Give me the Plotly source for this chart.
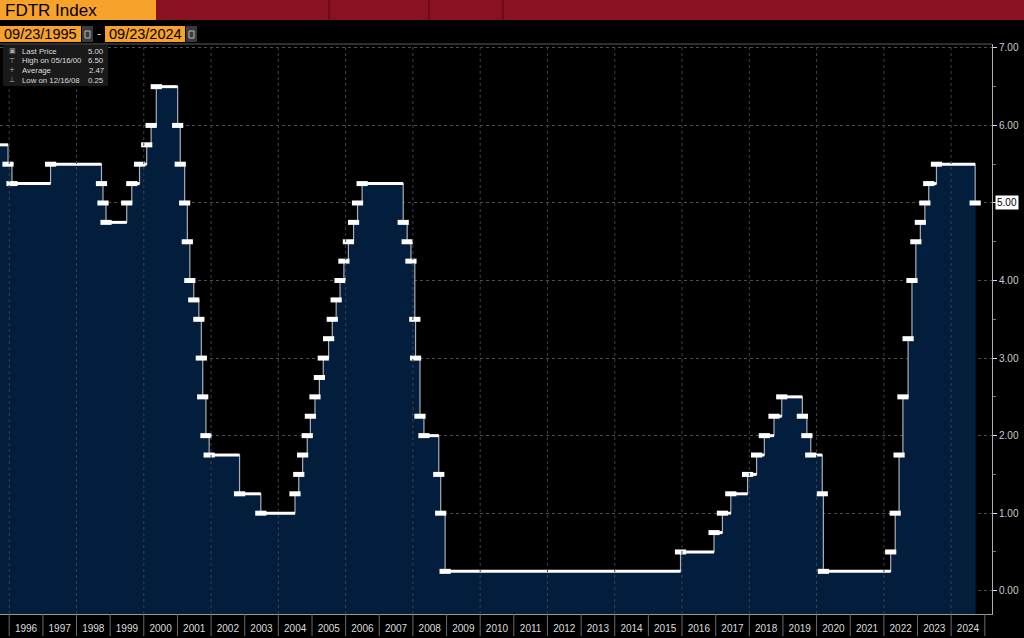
import plotly.graph_objects as go

# ---------------- data ----------------
change_dates = [
    "1995-09-23", "1995-12-19", "1996-01-31", "1997-03-25", "1998-09-29", "1998-10-15",
    "1998-11-17", "1999-06-30", "1999-08-24", "1999-11-16", "2000-02-02", "2000-03-21",
    "2000-05-16", "2001-01-03", "2001-01-31", "2001-03-20", "2001-04-18", "2001-05-15",
    "2001-06-27", "2001-08-21", "2001-09-17", "2001-10-02", "2001-11-06", "2001-12-11",
    "2002-11-06", "2003-06-25", "2004-06-30", "2004-08-10", "2004-09-21", "2004-11-10",
    "2004-12-14", "2005-02-02", "2005-03-22", "2005-05-03", "2005-06-30", "2005-08-09",
    "2005-09-20", "2005-11-01", "2005-12-13", "2006-01-31", "2006-03-28", "2006-05-10",
    "2006-06-29", "2007-09-18", "2007-10-31", "2007-12-11", "2008-01-22", "2008-01-30",
    "2008-03-18", "2008-04-30", "2008-10-08", "2008-10-29", "2008-12-16", "2015-12-16",
    "2016-12-14", "2017-03-15", "2017-06-14", "2017-12-13", "2018-03-21", "2018-06-13",
    "2018-09-26", "2018-12-19", "2019-07-31", "2019-09-18", "2019-10-30", "2020-03-03",
    "2020-03-15", "2022-03-16", "2022-05-04", "2022-06-15", "2022-07-27", "2022-09-21",
    "2022-11-02", "2022-12-14", "2023-02-01", "2023-03-22", "2023-05-03", "2023-07-26",
    "2024-09-18",
]
rates = [
    5.75, 5.50, 5.25, 5.50, 5.25, 5.00,
    4.75, 5.00, 5.25, 5.50, 5.75, 6.00,
    6.50, 6.00, 5.50, 5.00, 4.50, 4.00,
    3.75, 3.50, 3.00, 2.50, 2.00, 1.75,
    1.25, 1.00, 1.25, 1.50, 1.75, 2.00,
    2.25, 2.50, 2.75, 3.00, 3.25, 3.50,
    3.75, 4.00, 4.25, 4.50, 4.75, 5.00,
    5.25, 4.75, 4.50, 4.25, 3.50, 3.00,
    2.25, 2.00, 1.50, 1.00, 0.25, 0.50,
    0.75, 1.00, 1.25, 1.50, 1.75, 2.00,
    2.25, 2.50, 2.25, 2.00, 1.75, 1.25,
    0.25, 0.50, 1.00, 1.75, 2.50, 3.25,
    4.00, 4.50, 4.75, 5.00, 5.25, 5.50,
    5.00,
]
end_date = "2024-09-23"
axis_end = "2025-03-20"
years = list(range(1996, 2025))
y_ticks = [0, 1, 2, 3, 4, 5, 6, 7]
legend_labels = ["Last Price", "High on 05/16/00", "Average", "Low on 12/16/08"]
legend_values = ["5.00", "6.50", "2.47", "0.25"]
legend_icons = ["\u25a3", "\u22a4", "+", "\u22a5"]
title_text = "FDTR Index"
date_from = "09/23/1995"
date_to = "09/23/2024"

# ---------------- geometry helpers ----------------
W, H = 1024, 638
ML, MR, MT, MB = 0, 32, 44, 24
PW, PH = W - ML - MR, H - MT - MB
Y_MIN, Y_MAX = -0.30, 7.05
FONT = "Liberation Sans, Arial"


def px(x):
    return (x - ML) / PW


def py(y):
    return (H - MB - y) / PH


step_x = change_dates + [end_date]
step_y = rates + [rates[-1]]

fig = go.Figure()

# baseline for fill (plot bottom)
fig.add_trace(go.Scatter(x=[change_dates[0], end_date], y=[Y_MIN, Y_MIN], mode="lines",
                         line=dict(width=0), hoverinfo="skip", showlegend=False))
# filled area
fig.add_trace(go.Scatter(x=step_x, y=step_y, mode="lines", line_shape="hv",
                         line=dict(width=0), fill="tonexty", fillcolor="#031E3C",
                         hoverinfo="skip", showlegend=False))
# thin vertical connectors
fig.add_trace(go.Scatter(x=step_x, y=step_y, mode="lines", line_shape="hv",
                         line=dict(width=1.2, color="#A7AFB8"),
                         hoverinfo="skip", showlegend=False))
# white horizontal segments
hx, hy = [], []
for i in range(len(rates)):
    hx += [step_x[i], step_x[i + 1], None]
    hy += [step_y[i], step_y[i], None]
fig.add_trace(go.Scatter(x=hx, y=hy, mode="lines", line=dict(width=3, color="#FFFFFF"),
                         hoverinfo="skip", showlegend=False))
# change markers
fig.add_trace(go.Scatter(x=change_dates[1:], y=rates[1:], mode="markers",
                         marker=dict(symbol="line-ew", size=8,
                                     line=dict(width=5, color="#FFFFFF")),
                         hoverinfo="skip", showlegend=False))

shapes = []
annotations = []

# vertical dotted grid every two years
for yr in years:
    if yr % 2 == 0:
        shapes.append(dict(type="line", xref="x", yref="paper", x0=f"{yr}-01-01",
                           x1=f"{yr}-01-01", y0=0, y1=1,
                           line=dict(color="#3C4149", width=1, dash="dot"), layer="above"))
# year separators in the axis band
for yr in years + [2025]:
    shapes.append(dict(type="line", xref="x", yref="paper", x0=f"{yr}-01-01",
                       x1=f"{yr}-01-01", y0=py(636), y1=0,
                       line=dict(color="#6A6A6A", width=1)))

# header bar
shapes += [
    dict(type="rect", xref="paper", yref="paper", x0=px(0), x1=px(1024), y0=py(20), y1=py(0),
         fillcolor="#8A1120", line=dict(width=0)),
    dict(type="rect", xref="paper", yref="paper", x0=px(0), x1=px(156), y0=py(20), y1=py(0),
         fillcolor="#F7A22A", line=dict(width=0)),
]
for dx in [329, 429, 503]:
    shapes.append(dict(type="line", xref="paper", yref="paper", x0=px(dx), x1=px(dx),
                       y0=py(20), y1=py(0), line=dict(color="#4E0810", width=1)))
annotations.append(dict(text=title_text, xref="paper", yref="paper", x=px(3), y=py(10),
                        xanchor="left", yanchor="middle", showarrow=False,
                        font=dict(family=FONT, size=17, color="#000000")))

# date boxes
for (bx0, bx1, ix0, ix1, txt) in [(0, 81, 82, 93, date_from), (105, 185, 186, 197, date_to)]:
    shapes.append(dict(type="rect", xref="paper", yref="paper", x0=px(bx0), x1=px(bx1),
                       y0=py(42), y1=py(26), fillcolor="#F7A22A", line=dict(width=0)))
    shapes.append(dict(type="rect", xref="paper", yref="paper", x0=px(ix0), x1=px(ix1),
                       y0=py(42), y1=py(26), fillcolor="#3A3A3A", line=dict(width=0)))
    shapes.append(dict(type="rect", xref="paper", yref="paper", x0=px(ix0 + 3), x1=px(ix1 - 3),
                       y0=py(38), y1=py(31), fillcolor="rgba(0,0,0,0)",
                       line=dict(color="#BBBBBB", width=1)))
    annotations.append(dict(text=txt, xref="paper", yref="paper", x=px(bx0 + 2), y=py(34),
                            xanchor="left", yanchor="middle", showarrow=False,
                            font=dict(family=FONT, size=14.5, color="#000000")))
annotations.append(dict(text="-", xref="paper", yref="paper", x=px(99), y=py(34),
                        xanchor="center", yanchor="middle", showarrow=False,
                        font=dict(family=FONT, size=13, color="#CCCCCC")))

# top border of plot region
shapes.append(dict(type="line", xref="paper", yref="paper", x0=0, x1=1, y0=1, y1=1,
                   line=dict(color="#2E2E2E", width=2)))

# legend box
shapes.append(dict(type="rect", xref="paper", yref="paper", x0=px(3), x1=px(108),
                   y0=py(86), y1=py(45), fillcolor="#1A1A1A", line=dict(width=0),
                   layer="above"))
for i, (lab, val, ic) in enumerate(zip(legend_labels, legend_values, legend_icons)):
    yy = py(51 + i * 9.7)
    annotations.append(dict(text=ic, xref="paper", yref="paper", x=px(12), y=yy,
                            xanchor="center", yanchor="middle", showarrow=False,
                            font=dict(family="DejaVu Sans", size=7, color="#AAAAAA")))
    annotations.append(dict(text=lab, xref="paper", yref="paper", x=px(20), y=yy,
                            xanchor="left", yanchor="middle", showarrow=False,
                            font=dict(family=FONT, size=7.8, color="#DDDDDD")))
    annotations.append(dict(text=val, xref="paper", yref="paper", x=px(106), y=yy,
                            xanchor="right", yanchor="middle", showarrow=False,
                            font=dict(family=FONT, size=7.8, color="#DDDDDD")))

# last value box on right axis
annotations.append(dict(text=f"{rates[-1]:.2f}", xref="paper", yref="y", x=1.0, y=rates[-1],
                        xanchor="left", yanchor="middle", xshift=3, showarrow=False,
                        bgcolor="#FFFFFF", borderpad=1,
                        font=dict(family=FONT, size=10, color="#000000")))

tick_text = ["" if v == rates[-1] else f"{v:.2f}" for v in y_ticks]

fig.update_layout(
    width=W, height=H,
    margin=dict(l=ML, r=MR, t=MT, b=MB, pad=0),
    paper_bgcolor="#000000", plot_bgcolor="#000000",
    showlegend=False,
    shapes=shapes, annotations=annotations,
    xaxis=dict(
        type="date", range=[change_dates[0], axis_end],
        tickmode="array", tickvals=[f"{y}-07-02" for y in years],
        ticktext=[str(y) for y in years], ticks="", showgrid=False, zeroline=False,
        showline=True, linecolor="#9A9A9A", linewidth=1,
        tickfont=dict(family=FONT, size=10, color="#DDDDDD"),
        ticklabelstandoff=5, fixedrange=True,
    ),
    yaxis=dict(
        side="right", range=[Y_MIN, Y_MAX], tickmode="array", tickvals=y_ticks,
        ticktext=tick_text, ticks="outside", ticklen=4, tickcolor="#DDDDDD",
        showgrid=True, gridcolor="#4A4F57", griddash="dot", gridwidth=1,
        zeroline=False, showline=True, linecolor="#B0B0B0", linewidth=1,
        minor=dict(tickvals=[v + 0.5 for v in y_ticks[:-1]], ticks="outside",
                   ticklen=3, tickcolor="#777777", showgrid=False),
        tickfont=dict(family=FONT, size=10, color="#CCCCCC"),
        fixedrange=True,
    ),
)

fig.write_html(
    "out.html",
    config={"displayModeBar": False},
    post_script="document.body.style.margin='0';document.body.style.overflow='hidden';"
                "document.body.style.background='#000';",
)
